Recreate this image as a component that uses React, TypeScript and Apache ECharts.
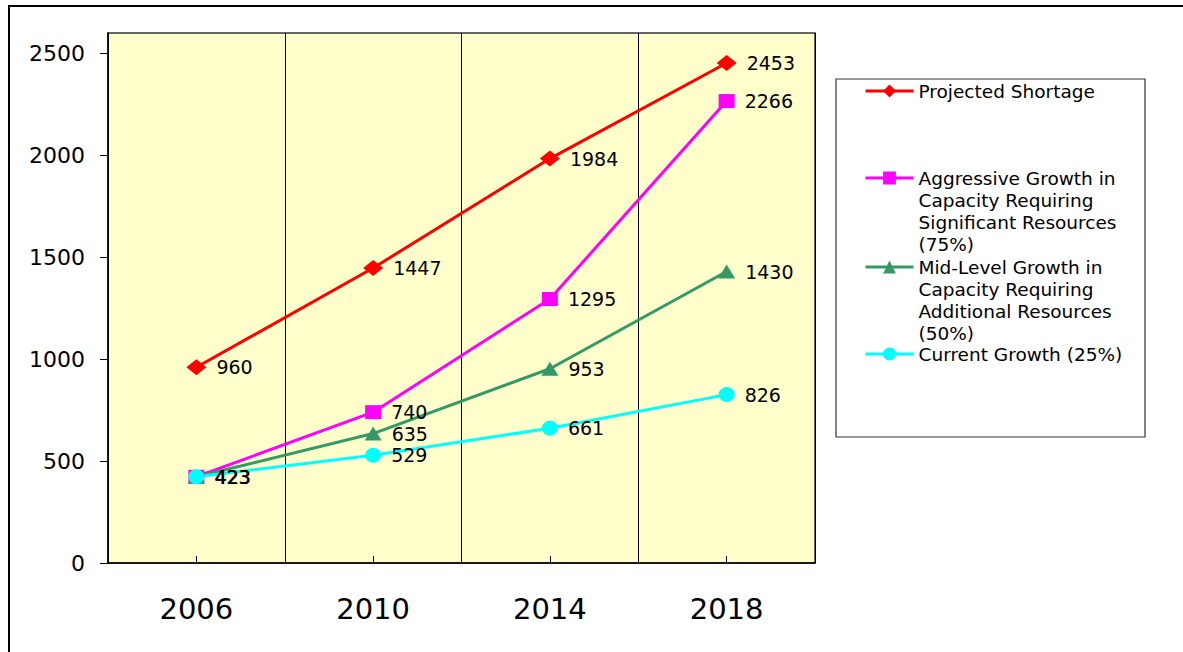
import React, { useEffect, useRef } from "react";
import * as echarts from "echarts";

const categories = ["2006", "2010", "2014", "2018"];
const projectedShortage = [960, 1447, 1984, 2453];
const aggressiveGrowth = [423, 740, 1295, 2266];
const midLevelGrowth = [423, 635, 953, 1430];
const currentGrowth = [423, 529, 661, 826];
const yTickValues = [0, 500, 1000, 1500, 2000, 2500];
const seriesNames = [
  "Projected Shortage",
  "Aggressive Growth in\nCapacity Requiring\nSignificant Resources\n(75%)",
  "Mid-Level Growth in\nCapacity Requiring\nAdditional Resources\n(50%)",
  "Current Growth (25%)",
];
const seriesColors = ["#FF0000", "#FF00FF", "#339966", "#00FFFF"];
const seriesSymbols = ["diamond", "rect", "triangle", "circle"];
const symbolSizes: any[] = [[20, 16], [16, 14], [17, 14], [16, 15]];
const legendIconCenters = [91, 178, 267, 354];

const FONT = "DejaVu Sans";

export default function App() {
  const ref = useRef<HTMLDivElement>(null);
  useEffect(() => {
    if (!ref.current) return;
    const chart = echarts.init(ref.current, null, { renderer: "svg" });
    const dataSets = [projectedShortage, aggressiveGrowth, midLevelGrowth, currentGrowth];
    const LH = 22;
    const option: any = {
      animation: false,
      backgroundColor: "#FFFFFF",
      grid: {
        left: 108,
        top: 33,
        width: 707,
        height: 530,
        show: true,
        backgroundColor: "#FFFFCC",
        borderColor: "#333333",
        borderWidth: 1.5,
      },
      graphic: [
        {
          type: "rect",
          shape: { x: 9, y: 6, width: 1200, height: 700 },
          style: { fill: "none", stroke: "#000", lineWidth: 2 },
          silent: true,
        },
        {
          type: "rect",
          shape: { x: 836, y: 79, width: 309, height: 358 },
          style: { fill: "none", stroke: "#333", lineWidth: 1.2 },
          silent: true,
        },
      ],
      legend: seriesNames.map((name, i) => {
        const lines = name.split("\n").length;
        const totalLines = 2 * lines - 1;
        const H = totalLines * LH;
        return {
          data: [name],
          orient: "vertical",
          left: 864,
          top: legendIconCenters[i] - H / 2,
          padding: 0,
          itemWidth: 48,
          itemHeight: 16,
          itemGap: 0,
          selectedMode: false,
          lineStyle: { width: 3 },
          formatter: (n: string) => "\n".repeat(lines - 1) + n,
          textStyle: {
            fontFamily: FONT,
            fontSize: 18.5,
            lineHeight: LH,
            color: "#000",
          },
        };
      }),
      xAxis: {
        type: "category",
        data: categories,
        boundaryGap: true,
        axisLine: { show: true, lineStyle: { color: "#000", width: 1.5 } },
        axisTick: { show: true, alignWithLabel: true, inside: true, length: 7, lineStyle: { color: "#000" } },
        splitLine: { show: true, lineStyle: { color: "#000", width: 1 } },
        axisLabel: { fontFamily: FONT, fontSize: 29, color: "#000", margin: 31 },
      },
      yAxis: {
        type: "value",
        min: 0,
        max: 2600,
        interval: 500,
        splitLine: { show: false },
        axisLine: { show: true, lineStyle: { color: "#000", width: 1.5 } },
        axisTick: { show: true, length: 8, lineStyle: { color: "#000" }, customValues: yTickValues },
        axisLabel: {
          fontFamily: FONT,
          fontSize: 22,
          color: "#000",
          margin: 23,
          customValues: yTickValues,
          formatter: (v: number) => String(v),
        },
      },
      series: seriesNames.map((name, i) => ({
        name,
        type: "line",
        data: dataSets[i],
        symbol: seriesSymbols[i],
        symbolSize: symbolSizes[i],
        lineStyle: { width: 3, color: seriesColors[i] },
        itemStyle: { color: seriesColors[i] },
        label: {
          show: true,
          position: "right",
          distance: 10,
          fontFamily: FONT,
          fontSize: 19,
          lineHeight: 20,
          color: "#000",
        },
      })),
    };
    chart.setOption(option);
    return () => chart.dispose();
  }, []);
  return (
    <div
      ref={ref}
      style={{ position: "fixed", left: 0, top: 0, width: 1183, height: 652, background: "#fff" }}
    />
  );
}
